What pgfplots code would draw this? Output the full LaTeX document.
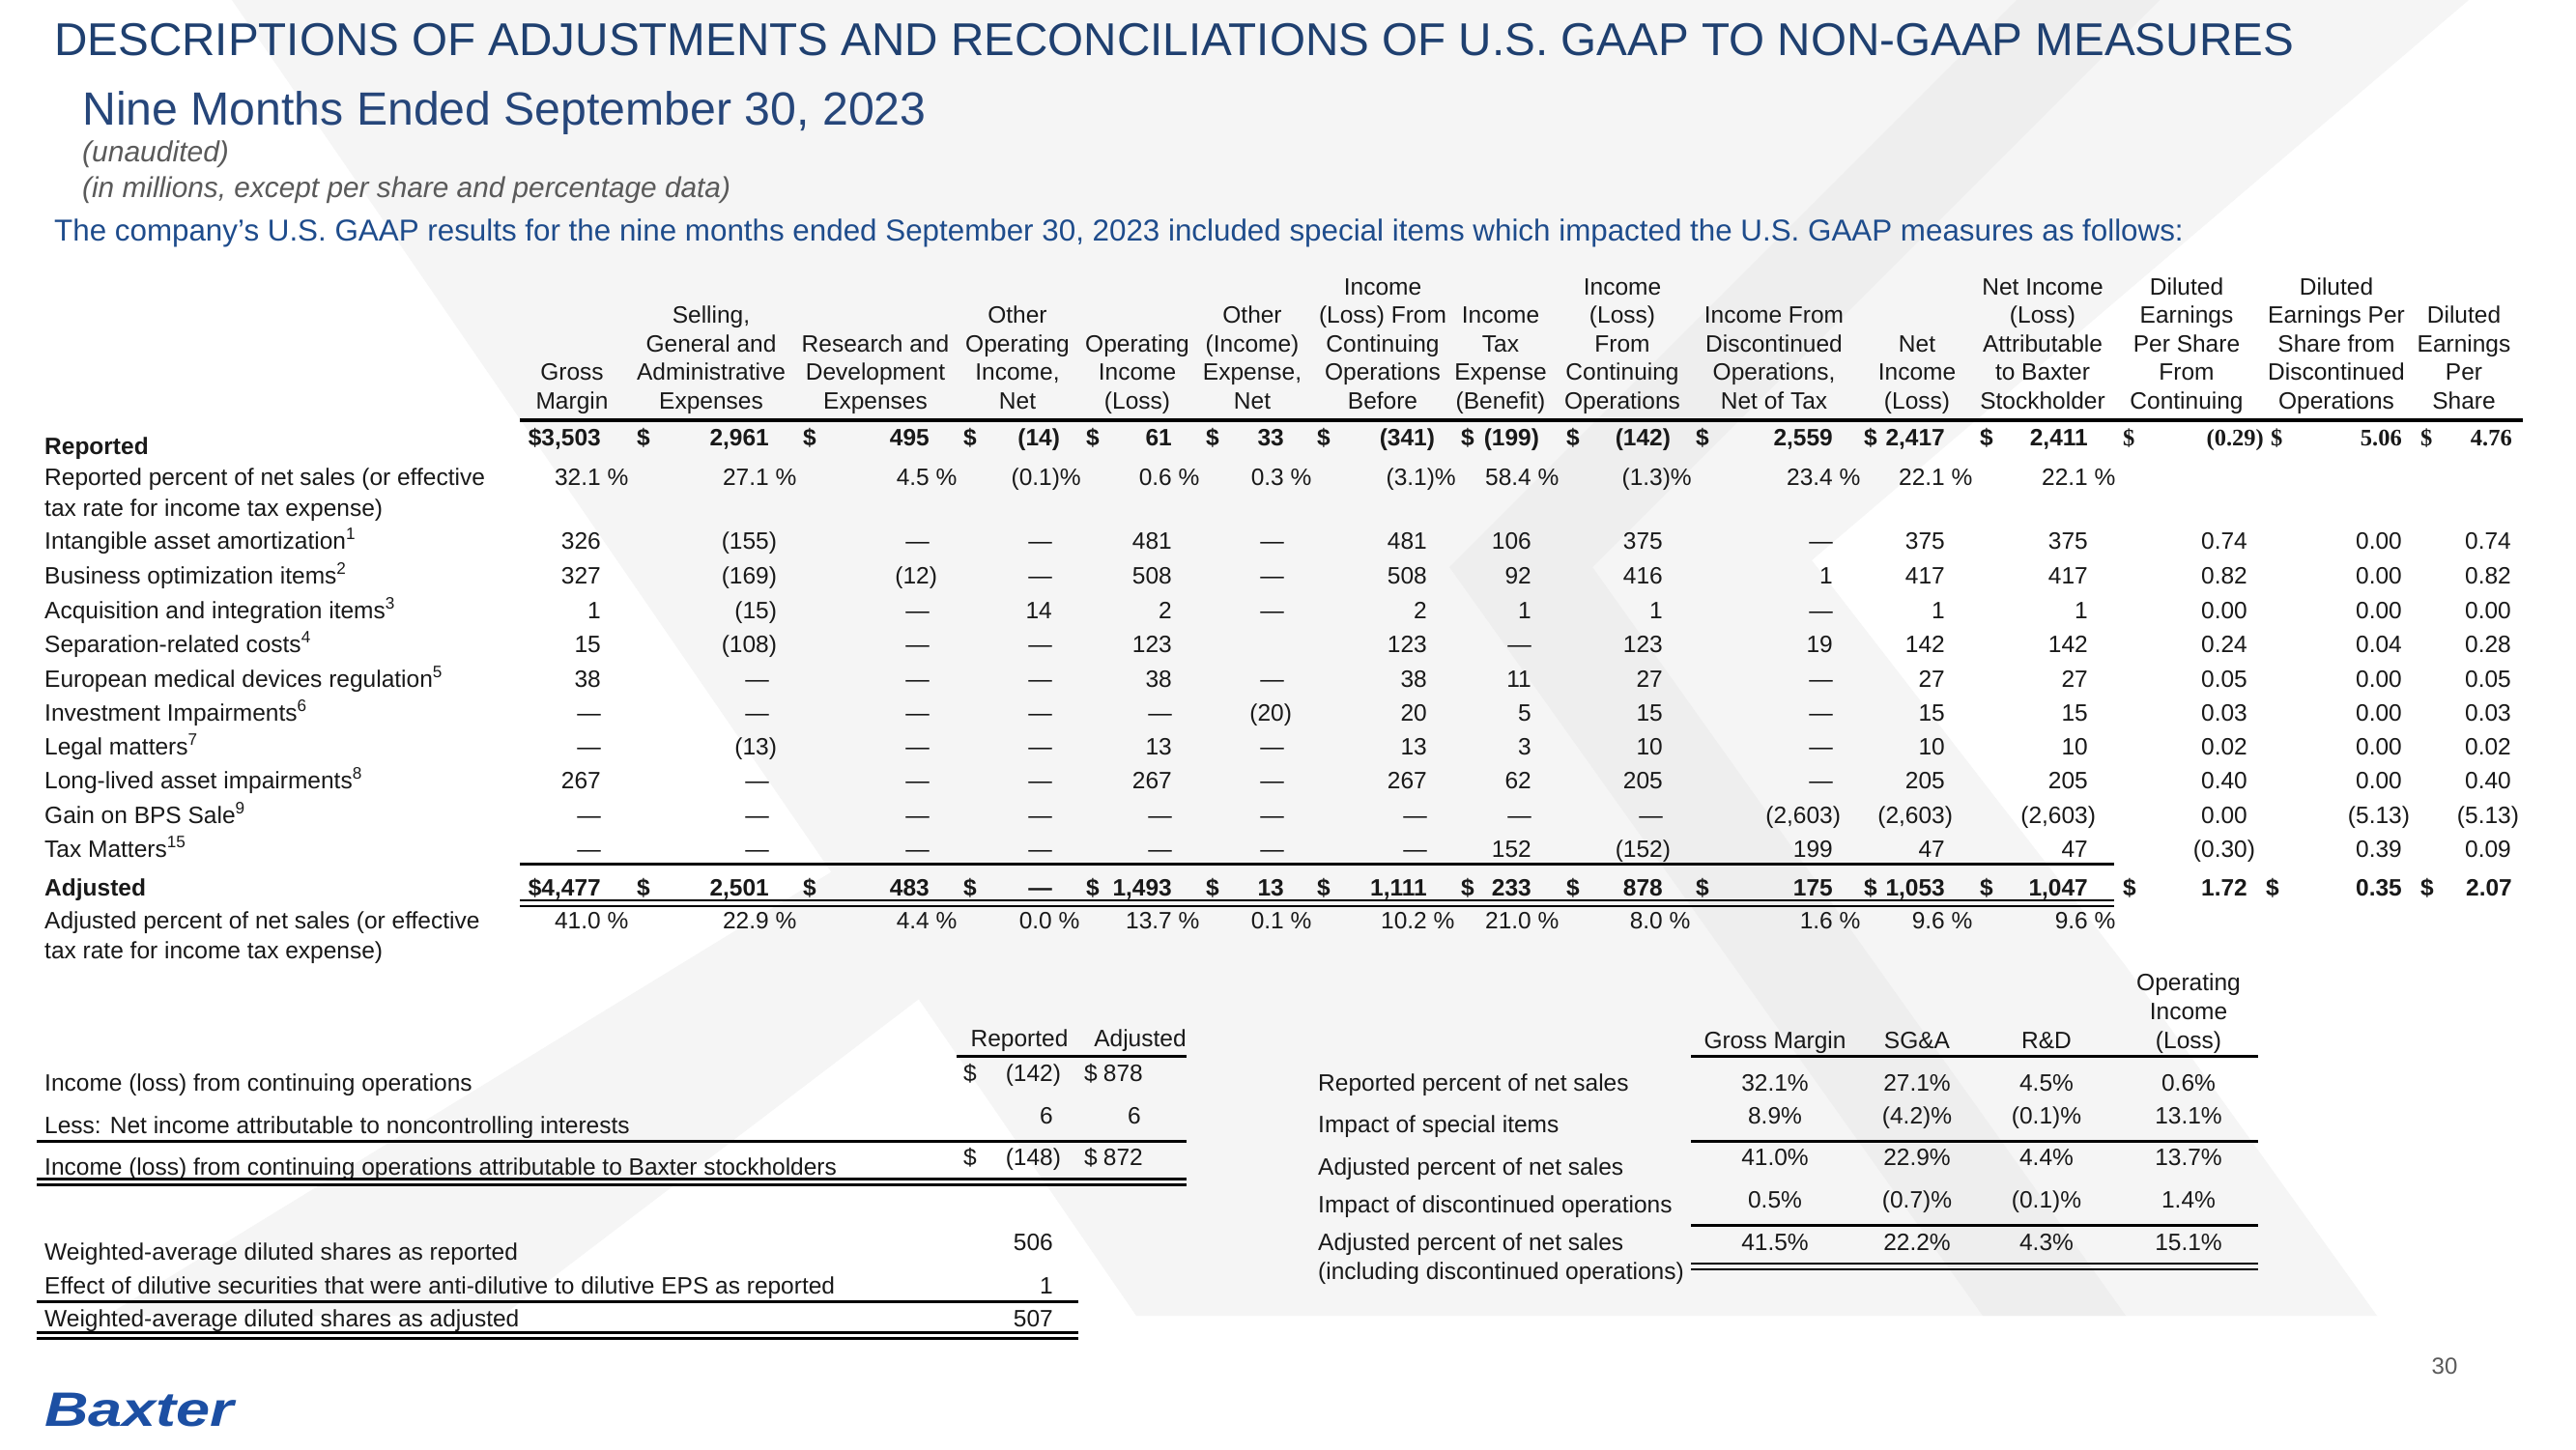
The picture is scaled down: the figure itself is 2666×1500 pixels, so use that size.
\documentclass[border=0pt]{standalone}
\usepackage{fontspec}
\setmainfont{Liberation Sans}
\newfontfamily\serifb{Liberation Serif}
\usepackage{graphicx}
\usepackage{pgfplots}
\pgfplotsset{compat=1.18}
\definecolor{txt}{RGB}{25,25,25}
\definecolor{ttl}{RGB}{31,64,112}
\definecolor{subc}{RGB}{38,70,122}
\definecolor{lineblue}{RGB}{30,76,140}
\definecolor{baxblue}{RGB}{28,79,163}
\definecolor{bgA}{RGB}{245,245,245}
\definecolor{bgB}{RGB}{238,238,238}
\definecolor{grayt}{RGB}{90,90,90}
\newcommand{\tf}{\fontsize{24.5}{29}\selectfont}
\newcommand{\tfb}{\fontsize{24.5}{29}\selectfont\bfseries}
% value (right aligned), bold value, dollar, label, centered
\newcommand{\V}[3]{\node[anchor=base east,inner sep=0pt,font=\tf,text=txt] at (axis cs:#1,#2) {#3};}
\newcommand{\VB}[3]{\node[anchor=base east,inner sep=0pt,font=\tfb,text=txt] at (axis cs:#1,#2) {#3};}
\newcommand{\DB}[2]{\node[anchor=base west,inner sep=0pt,font=\tfb,text=txt] at (axis cs:#1,#2) {\$};}
\newcommand{\Dn}[2]{\node[anchor=base west,inner sep=0pt,font=\tf,text=txt] at (axis cs:#1,#2) {\$};}
\newcommand{\Lb}[3]{\node[anchor=base west,inner sep=0pt,font=\tf,text=txt] at (axis cs:#1,#2) {#3};}
\newcommand{\C}[3]{\node[anchor=base,inner sep=0pt,font=\tf,text=txt] at (axis cs:#1,#2) {#3};}
\newcommand{\Ng}[1]{(#1\rlap{)}}
\newcommand{\pc}[1]{#1\rlap{ \%}}
\newcommand{\npc}[1]{(#1\rlap{)\%}}
\newcommand{\dd}{\textemdash}
\newcommand{\RowA}[9]{\V{622}{#1}{#2}\V{796}{#1}{#3}\V{962}{#1}{#4}\V{1089}{#1}{#5}\V{1213}{#1}{#6}\V{1329}{#1}{#7}\V{1477}{#1}{#8}\V{1585}{#1}{#9}}
\newcommand{\RowB}[8]{\V{1721}{#1}{#2}\V{1897}{#1}{#3}\V{2013}{#1}{#4}\V{2161}{#1}{#5}\V{2326}{#1}{#6}\V{2486}{#1}{#7}\V{2599}{#1}{#8}}
\newcommand{\BRowA}[9]{\VB{622}{#1}{#2}\VB{796}{#1}{#3}\VB{962}{#1}{#4}\VB{1089}{#1}{#5}\VB{1213}{#1}{#6}\VB{1329}{#1}{#7}\VB{1477}{#1}{#8}\VB{1585}{#1}{#9}}
\newcommand{\BRowB}[6]{\VB{1721}{#1}{#2}\VB{1897}{#1}{#3}\VB{2013}{#1}{#4}\VB{2161}{#1}{#5}\VB{2326}{#1}{#6}}
\newcommand{\Rule}[4]{\addplot[black,line width=#4pt,forget plot] coordinates {(#1,#3) (#2,#3)};}
\begin{document}
\begin{tikzpicture}
\begin{axis}[
  at={(0,0)}, anchor=south west,
  width=2666pt, height=1500pt, scale only axis,
  xmin=0, xmax=2666, ymin=0, ymax=1500, y dir=reverse,
  hide axis, clip=false]
% background watermark
\addplot[fill=white,draw=none,forget plot] coordinates {(0,0) (2666,0) (2666,1500) (0,1500)} -- cycle;
\addplot[fill=bgA,draw=none,forget plot] coordinates {(240,0) (2555,0) (1875,580) (2200,1000) (2460,1362) (1176,1362)} -- cycle;
\addplot[fill=bgA,draw=none,forget plot] coordinates {(930,860) (1180,860) (520,1362) (110,1362)} -- cycle;
\addplot[fill=bgB,draw=none,forget plot] coordinates {(2087,0) (2235,0) (1648,587) (2200,1362) (2052,1362) (1500,587)} -- cycle;
% titles
\node[anchor=base west,inner sep=0pt,font=\fontsize{47.6}{56}\selectfont,text=ttl] at (axis cs:56,57) {DESCRIPTIONS OF ADJUSTMENTS AND RECONCILIATIONS OF U.S. GAAP TO NON-GAAP MEASURES};
\node[anchor=base west,inner sep=0pt,font=\fontsize{48.2}{56}\selectfont,text=subc] at (axis cs:85,129) {Nine Months Ended September 30, 2023};
\node[anchor=base west,inner sep=0pt,font=\fontsize{30}{36}\selectfont\itshape,text=grayt] at (axis cs:85,167) {(unaudited)};
\node[anchor=base west,inner sep=0pt,font=\fontsize{29.8}{36}\selectfont\itshape,text=grayt] at (axis cs:85,204) {(in millions, except per share and percentage data)};
\node[anchor=base west,inner sep=0pt,font=\fontsize{31.35}{36}\selectfont,text=lineblue] at (axis cs:56,249) {The company’s U.S. GAAP results for the nine months ended September 30, 2023 included special items which impacted the U.S. GAAP measures as follows:};
% column headers
\C{592}{393.5}{Gross}\C{592}{423}{Margin}
\C{736}{334.5}{Selling,}\C{736}{364}{General and}\C{736}{393.5}{Administrative}\C{736}{423}{Expenses}
\C{906}{364}{Research and}\C{906}{393.5}{Development}\C{906}{423}{Expenses}
\C{1053}{334.5}{Other}\C{1053}{364}{Operating}\C{1053}{393.5}{Income,}\C{1053}{423}{Net}
\C{1177}{364}{Operating}\C{1177}{393.5}{Income}\C{1177}{423}{(Loss)}
\C{1296}{334.5}{Other}\C{1296}{364}{(Income)}\C{1296}{393.5}{Expense,}\C{1296}{423}{Net}
\C{1431}{305}{Income}\C{1431}{334.5}{(Loss) From}\C{1431}{364}{Continuing}\C{1431}{393.5}{Operations}\C{1431}{423}{Before}
\C{1553}{334.5}{Income}\C{1553}{364}{Tax}\C{1553}{393.5}{Expense}\C{1553}{423}{(Benefit)}
\C{1679}{305}{Income}\C{1679}{334.5}{(Loss)}\C{1679}{364}{From}\C{1679}{393.5}{Continuing}\C{1679}{423}{Operations}
\C{1836}{334.5}{Income From}\C{1836}{364}{Discontinued}\C{1836}{393.5}{Operations,}\C{1836}{423}{Net of Tax}
\C{1984}{364}{Net}\C{1984}{393.5}{Income}\C{1984}{423}{(Loss)}
\C{2114}{305}{Net Income}\C{2114}{334.5}{(Loss)}\C{2114}{364}{Attributable}\C{2114}{393.5}{to Baxter}\C{2114}{423}{Stockholder}
\C{2263}{305}{Diluted}\C{2263}{334.5}{Earnings}\C{2263}{364}{Per Share}\C{2263}{393.5}{From}\C{2263}{423}{Continuing}
\C{2418}{305}{Diluted}\C{2418}{334.5}{Earnings Per}\C{2418}{364}{Share from}\C{2418}{393.5}{Discontinued}\C{2418}{423}{Operations}
\C{2550}{334.5}{Diluted}\C{2550}{364}{Earnings}\C{2550}{393.5}{Per}\C{2550}{423}{Share}
\Rule{538}{2611}{435}{3.5}
% row labels
\node[anchor=base west,inner sep=0pt,font=\tfb,text=txt] at (axis cs:46,470) {Reported};
\Lb{46}{502}{Reported percent of net sales (or effective}
\Lb{46}{534}{tax rate for income tax expense)}
\Lb{46}{568}{Intangible asset amortization\textsuperscript{1}}
\Lb{46}{604}{Business optimization items\textsuperscript{2}}
\Lb{46}{640}{Acquisition and integration items\textsuperscript{3}}
\Lb{46}{675}{Separation-related costs\textsuperscript{4}}
\Lb{46}{711}{European medical devices regulation\textsuperscript{5}}
\Lb{46}{746}{Investment Impairments\textsuperscript{6}}
\Lb{46}{781}{Legal matters\textsuperscript{7}}
\Lb{46}{816}{Long-lived asset impairments\textsuperscript{8}}
\Lb{46}{852}{Gain on BPS Sale\textsuperscript{9}}
\Lb{46}{887}{Tax Matters\textsuperscript{15}}
\node[anchor=base west,inner sep=0pt,font=\tfb,text=txt] at (axis cs:46,927) {Adjusted};
\Lb{46}{961}{Adjusted percent of net sales (or effective}
\Lb{46}{992}{tax rate for income tax expense)}
% Reported row
\BRowA{461}{\$3,503}{2,961}{495}{\Ng{14}}{61}{33}{\Ng{341}}{\Ng{199}}
\BRowB{461}{\Ng{142}}{2,559}{2,417}{2,411}{}
\DB{659}{461}\DB{831}{461}\DB{997}{461}\DB{1124}{461}\DB{1248}{461}\DB{1363}{461}\DB{1512}{461}\DB{1621}{461}\DB{1755}{461}\DB{1929}{461}\DB{2049}{461}
\node[anchor=base west,inner sep=0pt,font=\fontsize{24.5}{29}\serifb\bfseries,text=txt] at (axis cs:2197,461) {\$};
\node[anchor=base east,inner sep=0pt,font=\fontsize{24.5}{29}\serifb\bfseries,text=txt] at (axis cs:2343,461) {(0.29)};
\node[anchor=base west,inner sep=0pt,font=\fontsize{24.5}{29}\serifb\bfseries,text=txt] at (axis cs:2350,461) {\$};
\node[anchor=base east,inner sep=0pt,font=\fontsize{24.5}{29}\serifb\bfseries,text=txt] at (axis cs:2486,461) {5.06};
\node[anchor=base west,inner sep=0pt,font=\fontsize{24.5}{29}\serifb\bfseries,text=txt] at (axis cs:2505,461) {\$};
\node[anchor=base east,inner sep=0pt,font=\fontsize{24.5}{29}\serifb\bfseries,text=txt] at (axis cs:2600,461) {4.76};
% Reported percent row
\RowA{502}{\pc{32.1}}{\pc{27.1}}{\pc{4.5}}{\npc{0.1}}{\pc{0.6}}{\pc{0.3}}{\npc{3.1}}{\pc{58.4}}
\RowB{502}{\npc{1.3}}{\pc{23.4}}{\pc{22.1}}{\pc{22.1}}{}{}{}
% special items
\RowA{568}{326}{\Ng{155}}{\dd}{\dd}{481}{\dd}{481}{106}
\RowB{568}{375}{\dd}{375}{375}{0.74}{0.00}{0.74}
\RowA{604}{327}{\Ng{169}}{\Ng{12}}{\dd}{508}{\dd}{508}{92}
\RowB{604}{416}{1}{417}{417}{0.82}{0.00}{0.82}
\RowA{640}{1}{\Ng{15}}{\dd}{14}{2}{\dd}{2}{1}
\RowB{640}{1}{\dd}{1}{1}{0.00}{0.00}{0.00}
\RowA{675}{15}{\Ng{108}}{\dd}{\dd}{123}{}{123}{\dd}
\RowB{675}{123}{19}{142}{142}{0.24}{0.04}{0.28}
\RowA{711}{38}{\dd}{\dd}{\dd}{38}{\dd}{38}{11}
\RowB{711}{27}{\dd}{27}{27}{0.05}{0.00}{0.05}
\RowA{746}{\dd}{\dd}{\dd}{\dd}{\dd}{\Ng{20}}{20}{5}
\RowB{746}{15}{\dd}{15}{15}{0.03}{0.00}{0.03}
\RowA{781}{\dd}{\Ng{13}}{\dd}{\dd}{13}{\dd}{13}{3}
\RowB{781}{10}{\dd}{10}{10}{0.02}{0.00}{0.02}
\RowA{816}{267}{\dd}{\dd}{\dd}{267}{\dd}{267}{62}
\RowB{816}{205}{\dd}{205}{205}{0.40}{0.00}{0.40}
\RowA{852}{\dd}{\dd}{\dd}{\dd}{\dd}{\dd}{\dd}{\dd}
\RowB{852}{\dd}{\Ng{2,603}}{\Ng{2,603}}{\Ng{2,603}}{0.00}{\Ng{5.13}}{\Ng{5.13}}
\RowA{887}{\dd}{\dd}{\dd}{\dd}{\dd}{\dd}{\dd}{152}
\RowB{887}{\Ng{152}}{199}{47}{47}{\Ng{0.30}}{0.39}{0.09}
\Rule{538}{2188}{894.5}{3.2}
% Adjusted row
\BRowA{927}{\$4,477}{2,501}{483}{\dd}{1,493}{13}{1,111}{233}
\BRowB{927}{878}{175}{1,053}{1,047}{1.72}
\VB{2486}{927}{0.35}\VB{2600}{927}{2.07}
\DB{659}{927}\DB{831}{927}\DB{997}{927}\DB{1124}{927}\DB{1248}{927}\DB{1363}{927}\DB{1512}{927}\DB{1621}{927}\DB{1755}{927}\DB{1929}{927}\DB{2049}{927}\DB{2197}{927}\DB{2345}{927}\DB{2505}{927}
\Rule{538}{2188}{932}{2.8}
\Rule{538}{2188}{938}{2.8}
% Adjusted percent row
\RowA{961}{\pc{41.0}}{\pc{22.9}}{\pc{4.4}}{\pc{0.0}}{\pc{13.7}}{\pc{0.1}}{\pc{10.2}}{\pc{21.0}}
\RowB{961}{\pc{8.0}}{\pc{1.6}}{\pc{9.6}}{\pc{9.6}}{}{}{}
% bottom-left table
\C{1055}{1083}{Reported}\C{1180}{1083}{Adjusted}
\Rule{990}{1228}{1093}{3}
\Lb{46}{1129}{Income (loss) from continuing operations}
\Dn{997}{1119}\V{1090}{1119}{\Ng{142}}\Dn{1122}{1119}\V{1183}{1119}{878}
\Lb{46}{1173}{Less: Net income attributable to noncontrolling interests}
\V{1090}{1163}{6}\V{1181}{1163}{6}
\Rule{38}{1228}{1181}{3}
\Lb{46}{1216}{Income (loss) from continuing operations attributable to Baxter stockholders}
\Dn{997}{1206}\V{1090}{1206}{\Ng{148}}\Dn{1122}{1206}\V{1183}{1206}{872}
\Rule{38}{1228}{1220.5}{2.8}
\Rule{38}{1228}{1226.5}{2.8}
\Lb{46}{1304}{Weighted-average diluted shares as reported}
\V{1090}{1294}{506}
\Lb{46}{1339}{Effect of dilutive securities that were anti-dilutive to dilutive EPS as reported}
\V{1090}{1339}{1}
\Rule{38}{1116}{1347}{3}
\Lb{46}{1373}{Weighted-average diluted shares as adjusted}
\V{1090}{1373}{507}
\Rule{38}{1116}{1379.5}{2.8}
\Rule{38}{1116}{1385.5}{2.8}
% bottom-right table
\C{1837}{1085}{Gross Margin}\C{1984}{1085}{SG\&A}\C{2118}{1085}{R\&D}
\C{2265}{1025}{Operating}\C{2265}{1055}{Income}\C{2265}{1085}{(Loss)}
\Rule{1750}{2337}{1093}{3}
\Lb{1364}{1129}{Reported percent of net sales}
\C{1837}{1129}{32.1\%}\C{1984}{1129}{27.1\%}\C{2118}{1129}{4.5\%}\C{2265}{1129}{0.6\%}
\Lb{1364}{1172}{Impact of special items}
\C{1837}{1163}{8.9\%}\C{1984}{1163}{(4.2)\%}\C{2118}{1163}{(0.1)\%}\C{2265}{1163}{13.1\%}
\Rule{1750}{2337}{1181}{3}
\Lb{1364}{1216}{Adjusted percent of net sales}
\C{1837}{1206}{41.0\%}\C{1984}{1206}{22.9\%}\C{2118}{1206}{4.4\%}\C{2265}{1206}{13.7\%}
\Lb{1364}{1255}{Impact of discontinued operations}
\C{1837}{1250}{0.5\%}\C{1984}{1250}{(0.7)\%}\C{2118}{1250}{(0.1)\%}\C{2265}{1250}{1.4\%}
\Rule{1750}{2337}{1268}{3}
\Lb{1364}{1294}{Adjusted percent of net sales}
\C{1837}{1294}{41.5\%}\C{1984}{1294}{22.2\%}\C{2118}{1294}{4.3\%}\C{2265}{1294}{15.1\%}
\Lb{1364}{1324}{(including discontinued operations)}
\Rule{1750}{2337}{1308}{2.8}
\Rule{1750}{2337}{1314}{2.8}
% page number and logo
\node[anchor=base,inner sep=0pt,font=\fontsize{24}{28}\selectfont,text=grayt] at (axis cs:2530,1422) {30};
\node[anchor=base west,inner sep=0pt,font=\fontsize{50}{56}\selectfont\bfseries\itshape,text=baxblue] at (axis cs:46,1476) {\scalebox{1.26}[1]{Baxter}};
\end{axis}
\pgfresetboundingbox
\useasboundingbox (0,0) rectangle (2666pt,1500pt);
\end{tikzpicture}
\end{document}
